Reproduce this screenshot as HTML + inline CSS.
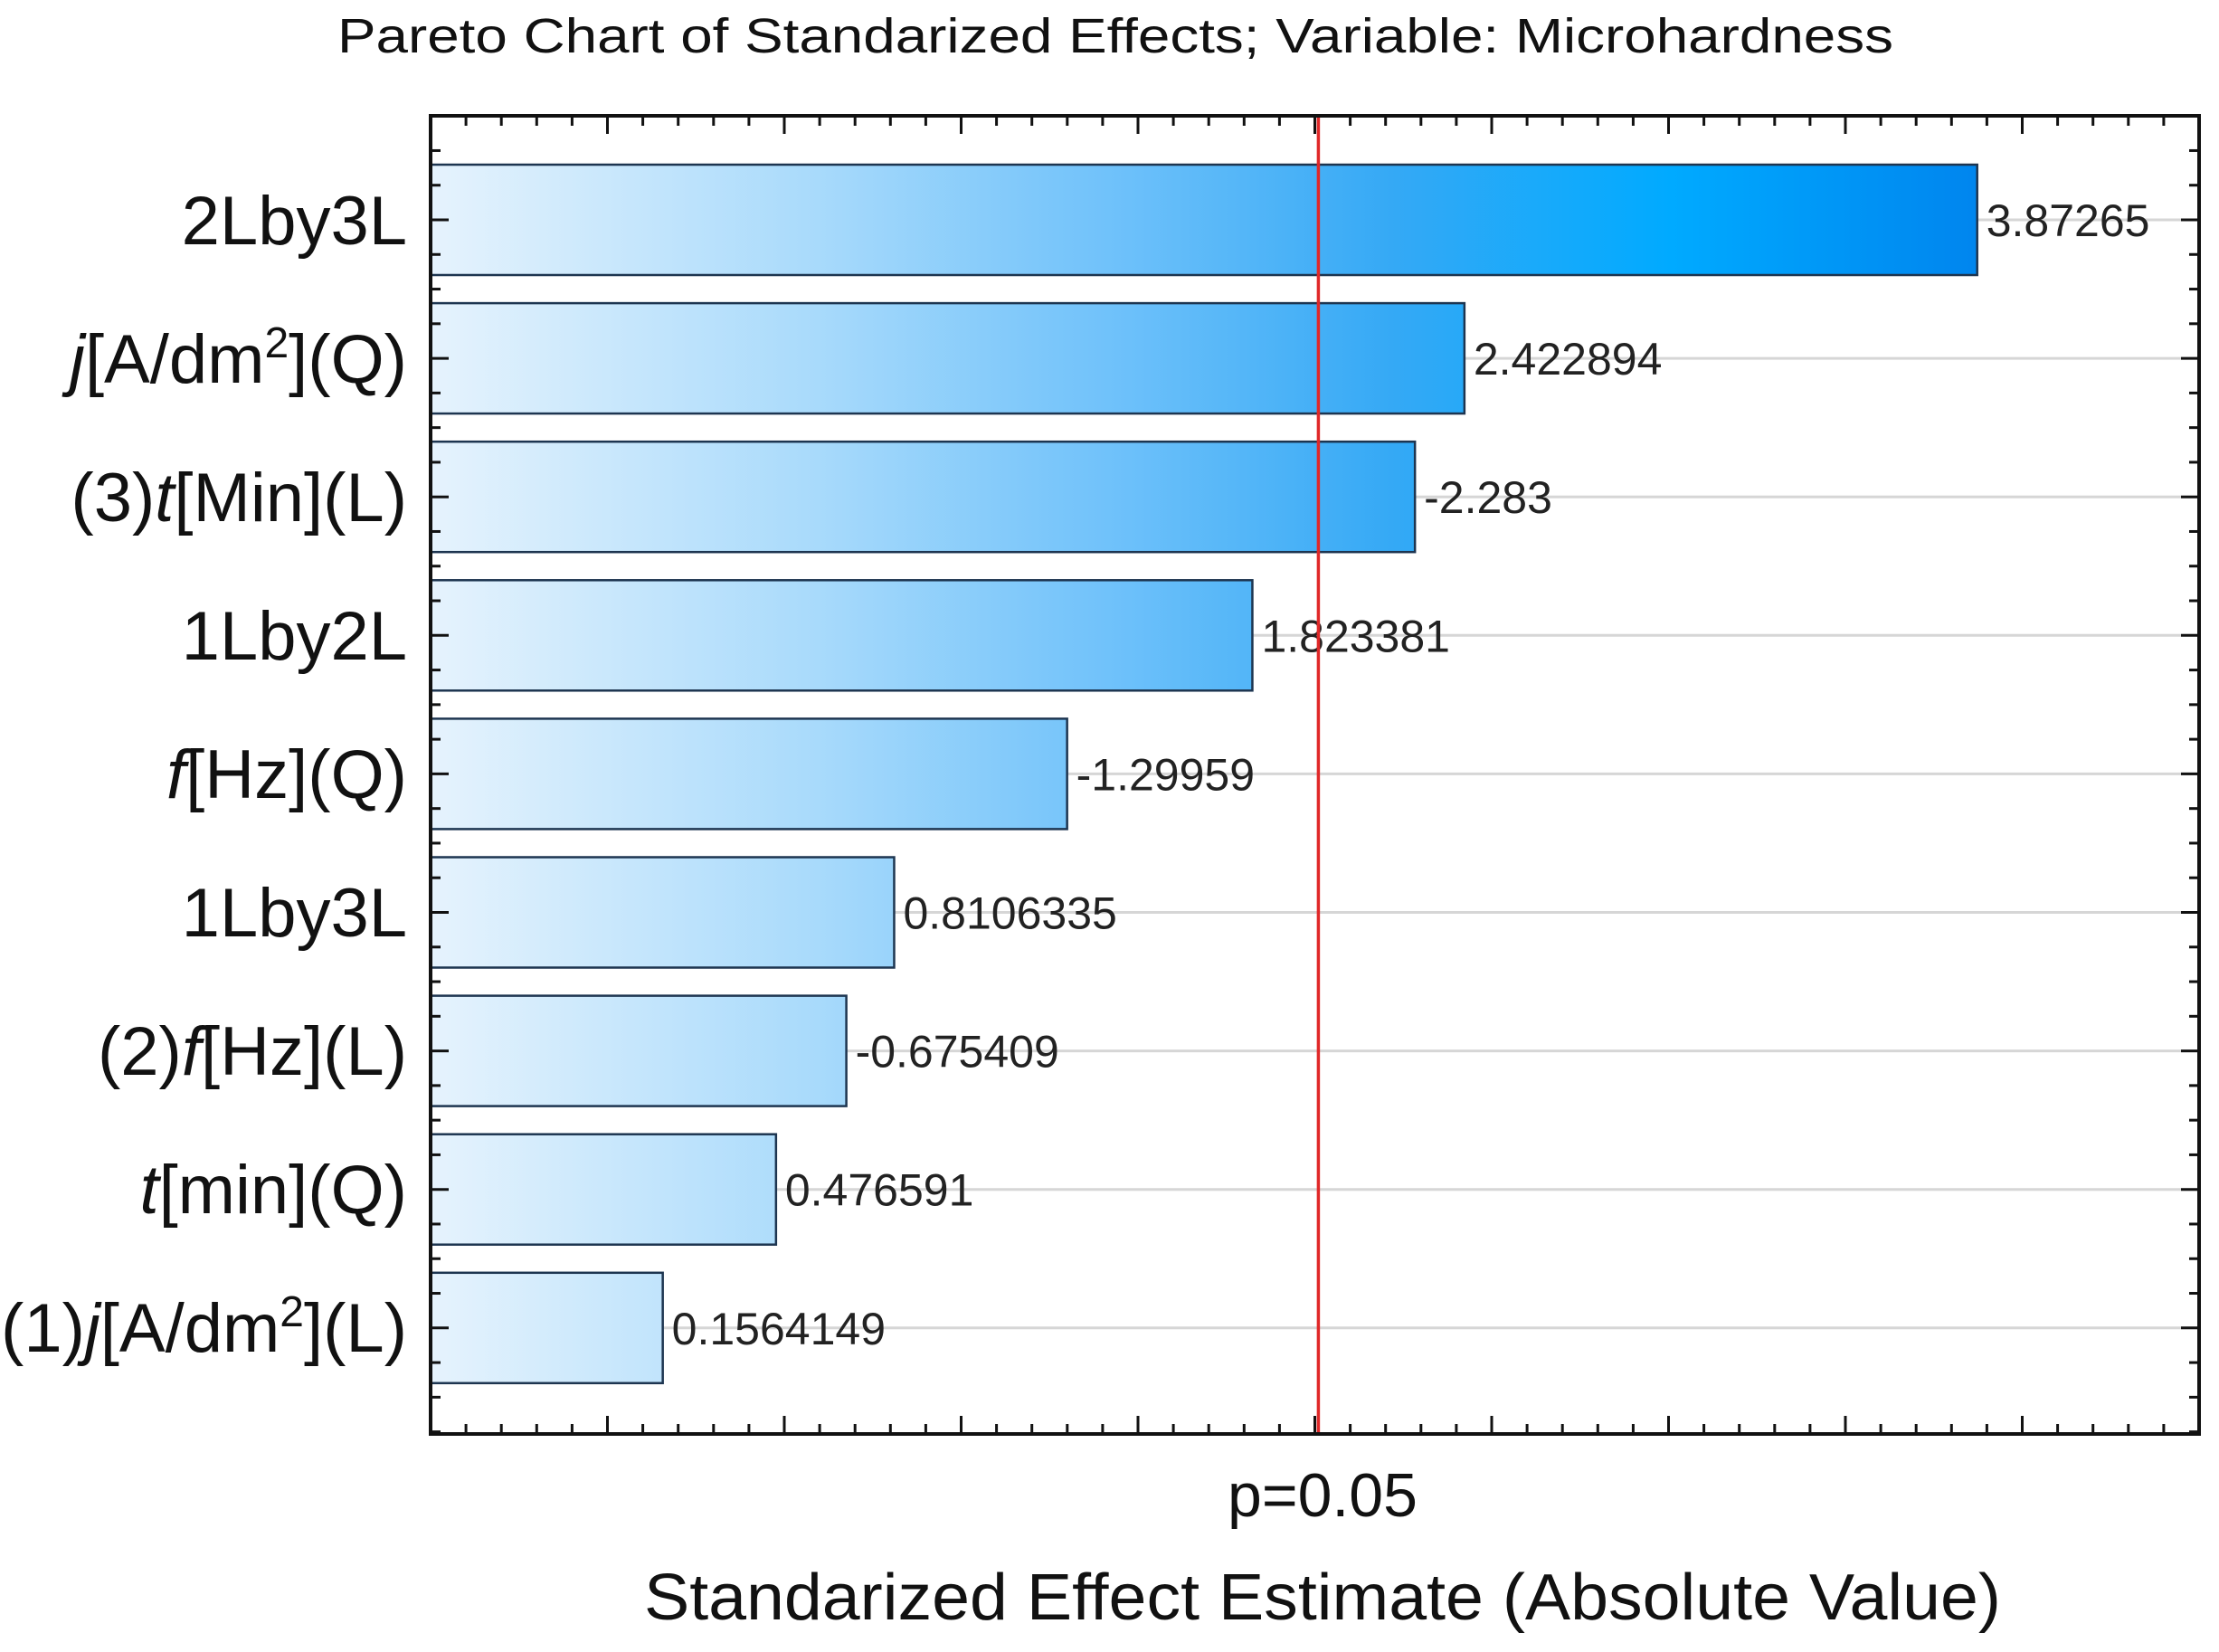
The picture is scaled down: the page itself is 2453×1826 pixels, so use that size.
<!DOCTYPE html>
<html><head><meta charset="utf-8"><style>
html,body{margin:0;padding:0;background:#fff;}
svg{display:block;font-family:"Liberation Sans",Arial,sans-serif;}
</style></head><body>
<svg id="chart" width="2453" height="1826" viewBox="0 0 2453 1826" xmlns="http://www.w3.org/2000/svg">
<defs>
<linearGradient id="barGrad" gradientUnits="userSpaceOnUse" x1="476" y1="0" x2="2190" y2="0">
<stop offset="0" stop-color="#e6f3fd"/>
<stop offset="0.25" stop-color="#a8dafb"/>
<stop offset="0.45" stop-color="#6cc0fa"/>
<stop offset="0.62" stop-color="#35a9f5"/>
<stop offset="0.8" stop-color="#00aaff"/>
<stop offset="1" stop-color="#0085ee"/>
</linearGradient>
</defs>
<text x="1233" y="58" font-size="54" text-anchor="middle" textLength="1720" lengthAdjust="spacingAndGlyphs" fill="#111">Pareto Chart of Standarized Effects; Variable: Microhardness</text>
<g id="grid"></g>
<g id="bars"></g>
<g id="frame"></g>
<g id="ylabels" font-size="76" fill="#111" text-anchor="end">
<text x="450" y="270">2Lby3L</text>
<text x="450" y="423"><tspan font-style="italic">j</tspan>[A/dm<tspan font-size="48" dy="-28">2</tspan><tspan dy="28">](Q)</tspan></text>
<text x="450" y="576">(3)<tspan font-style="italic">t</tspan>[Min](L)</text>
<text x="450" y="729">1Lby2L</text>
<text x="450" y="882"><tspan font-style="italic">f</tspan>[Hz](Q)</text>
<text x="450" y="1035">1Lby3L</text>
<text x="450" y="1188">(2)<tspan font-style="italic">f</tspan>[Hz](L)</text>
<text x="450" y="1341"><tspan font-style="italic">t</tspan>[min](Q)</text>
<text x="450" y="1494">(1)<tspan font-style="italic">j</tspan>[A/dm<tspan font-size="48" dy="-28">2</tspan><tspan dy="28">](L)</tspan></text>
</g>
<text x="1462" y="1676" font-size="68" text-anchor="middle" fill="#111">p=0.05</text>
<text x="1462" y="1790" font-size="72" text-anchor="middle" textLength="1500" lengthAdjust="spacingAndGlyphs" fill="#111">Standarized Effect Estimate (Absolute Value)</text>
</svg>
<script>
const categories = ["2Lby3L","j[A/dm2](Q)","(3)t[Min](L)","1Lby2L","f[Hz](Q)","1Lby3L","(2)f[Hz](L)","t[min](Q)","(1)j[A/dm2](L)"];
const effects = [3.87265, 2.422894, 2.283, 1.823381, 1.29959, 0.8106335, 0.675409, 0.476591, 0.1564149];
const valueLabels = ["3.87265","2.422894","-2.283","1.823381","-1.29959","0.8106335","-0.675409","0.476591","0.1564149"];
const criticalValue = [2.01];
const xDomain = [-0.5, 4.5];

const NS = "http://www.w3.org/2000/svg";
const L = 476, R = 2431, T = 128, B = 1585;
const firstC = 243, band = 153.1, barH = 122;
function xs(v){ return L + (v - xDomain[0]) / (xDomain[1] - xDomain[0]) * (R - L); }
function ys(i){ return firstC + i * band; }
function mk(tag, attrs, parent){ const e = document.createElementNS(NS, tag); for (const k in attrs) e.setAttribute(k, attrs[k]); parent.appendChild(e); return e; }

const grid = document.getElementById('grid');
const bars = document.getElementById('bars');
const frame = document.getElementById('frame');

categories.forEach((c, i) => {
  const g = mk('line', {x1: L, x2: R, y1: ys(i), y2: ys(i), stroke: '#d6d6d6', 'stroke-width': 3}, grid);
  
  
});

effects.forEach((v, i) => {
  const r = mk('rect', {x: L, y: ys(i) - barH/2, width: xs(v) - L, height: barH, fill: 'url(#barGrad)', stroke: '#1d3550', 'stroke-width': 2.5}, bars);
  
  
  const t = mk('text', {x: xs(v) + 10, y: ys(i) + 18, 'font-size': 50, fill: '#222'}, bars);
  t.textContent = valueLabels[i];
  
  
});

const red = mk('line', {x1: xs(criticalValue[0]), x2: xs(criticalValue[0]), y1: T, y2: B, stroke: '#e02828', 'stroke-width': 3.5}, frame);



for (let k = 0; k <= 50; k++) {
  const v = xDomain[0] + k * 0.1;
  const x = xs(v);
  const len = (k % 5 === 0) ? 20 : 11;
  const tb = mk('line', {x1: x, x2: x, y1: B, y2: B - len, stroke: '#111', 'stroke-width': 3}, frame);
  
  
  const tt = mk('line', {x1: x, x2: x, y1: T, y2: T + len, stroke: '#111', 'stroke-width': 3}, frame);
  
  
}
for (let k = -3; k <= 4 * (categories.length - 1) + 3; k++) {
  const y = firstC + k * band / 4;
  if (y <= T + 2 || y >= B - 2) continue;
  const len = (k % 4 === 0) ? 20 : 11;
  const tl = mk('line', {x1: L, x2: L + len, y1: y, y2: y, stroke: '#111', 'stroke-width': 3}, frame);
  
  
  const tr = mk('line', {x1: R, x2: R - len, y1: y, y2: y, stroke: '#111', 'stroke-width': 3}, frame);
  
  
}
const box = mk('rect', {x: L, y: T, width: R - L, height: B - T, fill: 'none', stroke: '#111', 'stroke-width': 4}, frame);


</script>
</body></html>
